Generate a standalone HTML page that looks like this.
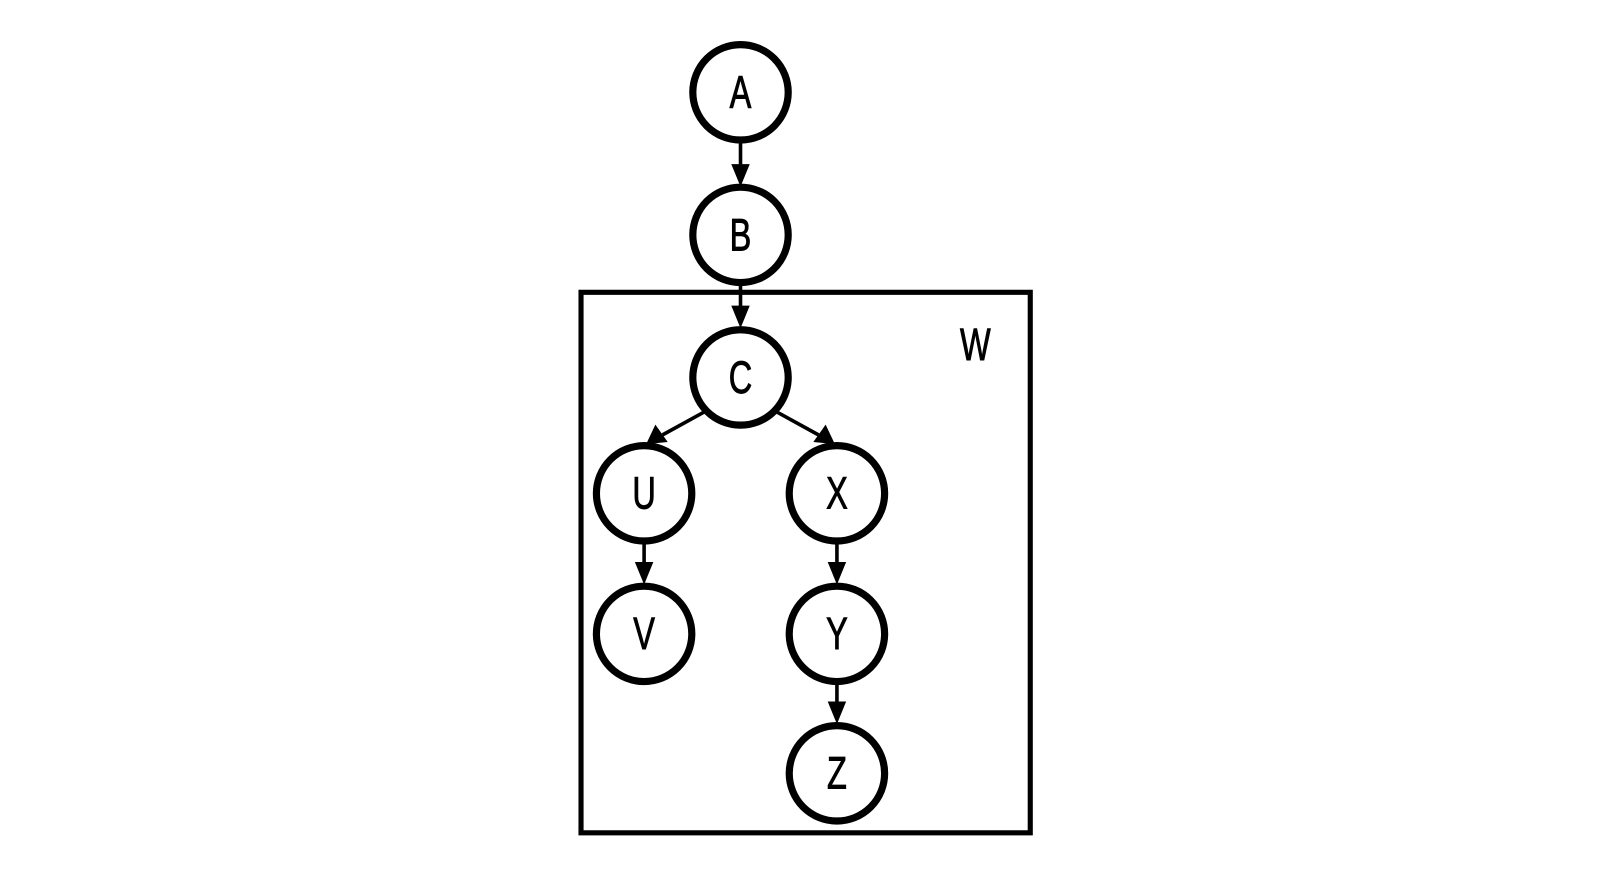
<!DOCTYPE html>
<html><head><style>html,body{margin:0;padding:0;background:#fff;}svg{display:block}</style></head>
<body>
<svg width="1600" height="896" viewBox="4 2 1560 873.6" xmlns="http://www.w3.org/2000/svg">
<g fill="none" stroke="#000">
<rect x="570.5" y="287" width="438" height="527" stroke-width="5"/>
<g stroke-width="7">
<circle cx="726" cy="92" r="46.5"/>
<circle cx="726" cy="231" r="46.5"/>
<circle cx="726" cy="370" r="46.5"/>
<circle cx="632" cy="483" r="46.5"/>
<circle cx="820" cy="483" r="46.5"/>
<circle cx="632" cy="620" r="46.5"/>
<circle cx="820" cy="620" r="46.5"/>
<circle cx="820" cy="756" r="46.5"/>
</g>
<g stroke-width="3.5">
<line x1="726" y1="140" x2="726" y2="166"/>
<line x1="726" y1="279" x2="726" y2="304"/>
<line x1="690" y1="404" x2="650" y2="426"/>
<line x1="762" y1="404" x2="802" y2="426"/>
<line x1="632" y1="531" x2="632" y2="554"/>
<line x1="820" y1="531" x2="820" y2="554"/>
<line x1="820" y1="668" x2="820" y2="690"/>
</g>
</g>
<g fill="#000">
<polygon points="717,162 735,162 726,184"/>
<polygon points="717,300 735,300 726,322"/>
<polygon points="623,550 641,550 632,572"/>
<polygon points="811,550 829,550 820,572"/>
<polygon points="811,686 829,686 820,708"/>
<polygon points="643,416 655,433 634,435"/>
<polygon points="809,416 797,433 818,435"/>
</g>
<g font-family="'Liberation Sans', sans-serif" font-size="44" text-anchor="middle" fill="#000" stroke="#000" stroke-width="0.9">
<text transform="translate(726,107) scale(0.72,1)">A</text>
<text transform="translate(726,246) scale(0.72,1)">B</text>
<text transform="translate(726,385) scale(0.72,1)">C</text>
<text transform="translate(632,498) scale(0.72,1)">U</text>
<text transform="translate(820,498) scale(0.72,1)">X</text>
<text transform="translate(632,635) scale(0.72,1)">V</text>
<text transform="translate(820,635) scale(0.72,1)">Y</text>
<text transform="translate(820,771) scale(0.72,1)">Z</text>
<text transform="translate(955,353) scale(0.72,1)">W</text>
</g>
</svg>
</body></html>
